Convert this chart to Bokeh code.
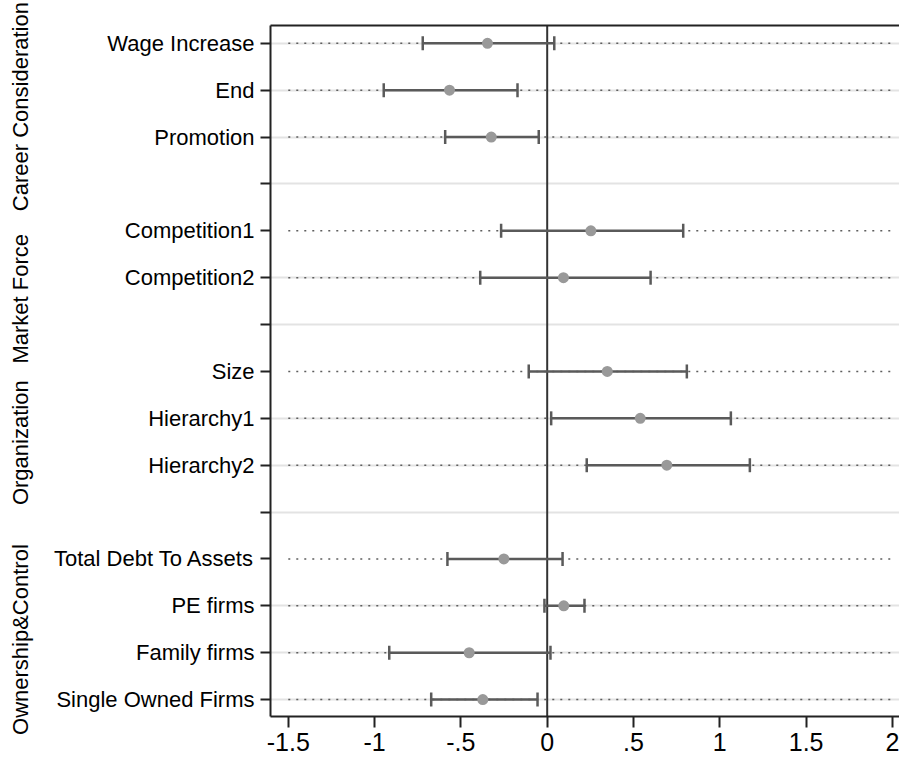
import math
from bokeh.plotting import figure
from bokeh.models import FixedTicker, LinearAxis, Range1d, Span, ColumnDataSource
from bokeh.embed import file_html
from bokeh.resources import INLINE

# ---- data ----
groups = ["Career Consideration", "Market Force", "Organization", "Ownership&Control"]
group_items = [
    ["Wage Increase", "End", "Promotion"],
    ["Competition1", "Competition2"],
    ["Size", "Hierarchy1", "Hierarchy2"],
    ["Total Debt To Assets", "PE firms", "Family firms", "Single Owned Firms"],
]
coef = [-0.346, -0.566, -0.324, 0.253, 0.094, 0.348, 0.539, 0.693, -0.251, 0.096, -0.452, -0.373]
ci_low = [-0.721, -0.947, -0.591, -0.267, -0.388, -0.107, 0.023, 0.229, -0.578, -0.016, -0.915, -0.672]
ci_high = [0.041, -0.172, -0.049, 0.788, 0.599, 0.809, 1.064, 1.174, 0.089, 0.216, 0.019, -0.056]
xtick_vals = [-1.5, -1.0, -0.5, 0.0, 0.5, 1.0, 1.5, 2.0]
xtick_labels = ["-1.5", "-1", "-.5", "0", ".5", "1", "1.5", "2"]

# ---- layout of rows ----
item_labels, item_rows, sep_rows, first_rows = [], [], [], []
r = 0
for gi, items in enumerate(group_items):
    first_rows.append(r)
    for it in items:
        item_labels.append(it)
        item_rows.append(r)
        r += 1
    if gi < len(group_items) - 1:
        sep_rows.append(r)
        r += 1
all_rows = sorted(item_rows + sep_rows)
grid_rows = [x for x in all_rows if x not in first_rows[1:]]
group_label_pos = [1.35, 5.45, 8.52, 12.72]

FONT = "Liberation Sans"
FS = "22px"

p = figure(width=899, height=761, output_backend="svg", toolbar_location=None,
           x_range=Range1d(-1.603, 2.041), y_range=Range1d(14.36, -0.38),
           min_border_left=270, min_border_top=25, min_border_right=0, min_border_bottom=45)
p.background_fill_color = "white"
p.border_fill_color = "white"
p.outline_line_color = None

p.xgrid.visible = False
p.ygrid.ticker = FixedTicker(ticks=grid_rows)
p.ygrid.grid_line_color = "#e3e3e3"
p.ygrid.grid_line_width = 2

# bottom x axis
xa = p.below[0]
xa.ticker = FixedTicker(ticks=xtick_vals)
xa.major_label_overrides = {v: l for v, l in zip(xtick_vals, xtick_labels)}
xa.major_tick_out = 11
xa.major_tick_in = 0
xa.minor_tick_line_color = None
xa.major_label_standoff = 5
xa.major_label_text_font = FONT
xa.major_label_text_font_size = "25px"
xa.major_label_text_color = "black"
xa.axis_line_width = 2
xa.axis_line_color = "#222222"
xa.major_tick_line_width = 2
xa.major_tick_line_color = "#222222"

# top frame line (axis line only, no ticks or labels)
ta = LinearAxis(ticker=FixedTicker(ticks=[]))
ta.axis_line_width = 2
ta.axis_line_color = "#222222"
ta.major_tick_line_color = None
ta.minor_tick_line_color = None
ta.major_tick_out = 0
ta.major_tick_in = 0
ta.major_label_standoff = 0
ta.major_label_text_font_size = "0px"
p.add_layout(ta, "above")

# y axis (items)
ya = p.left[0]
ya.ticker = FixedTicker(ticks=all_rows)
overrides = {rr: "" for rr in sep_rows}
overrides.update({rr: l for rr, l in zip(item_rows, item_labels)})
ya.major_label_overrides = overrides
ya.major_tick_out = 10
ya.major_tick_in = 0
ya.minor_tick_line_color = None
ya.major_label_standoff = 6
ya.major_label_text_font = FONT
ya.major_label_text_font_size = FS
ya.major_label_text_color = "black"
ya.axis_line_width = 2
ya.axis_line_color = "#222222"
ya.major_tick_line_width = 2
ya.major_tick_line_color = "#222222"

# group axis
ga = LinearAxis(ticker=FixedTicker(ticks=group_label_pos),
                major_label_overrides={v: g for v, g in zip(group_label_pos, groups)})
ga.axis_line_color = None
ga.major_tick_line_color = None
ga.minor_tick_line_color = None
ga.major_tick_out = 0
ga.major_tick_in = 0
ga.major_label_standoff = 17
ga.major_label_orientation = "parallel"
ga.major_label_text_font = FONT
ga.major_label_text_font_size = FS
ga.major_label_text_color = "black"
p.add_layout(ga, "left")

# zero line
p.add_layout(Span(location=0, dimension="height", line_color="#333333", line_width=2, level="underlay"))

# dotted row guides
p.segment(x0=[xtick_vals[0]] * len(item_rows), x1=[xtick_vals[-1]] * len(item_rows),
          y0=item_rows, y1=item_rows, line_color="#5e5e5e", line_width=1.5, line_dash="2 6")

src = ColumnDataSource(dict(y=item_rows, coef=coef, lo=ci_low, hi=ci_high))
p.segment(x0="lo", x1="hi", y0="y", y1="y", source=src, line_color="#5a5a5a", line_width=2.5)
p.scatter(x="lo", y="y", source=src, marker="dash", angle=math.pi / 2, size=14,
          line_color="#5a5a5a", line_width=2.5)
p.scatter(x="hi", y="y", source=src, marker="dash", angle=math.pi / 2, size=14,
          line_color="#5a5a5a", line_width=2.5)
p.scatter(x="coef", y="y", source=src, marker="circle", size=11,
          fill_color="#999999", line_color=None)

open("out.html", "w").write(file_html(p, INLINE))
